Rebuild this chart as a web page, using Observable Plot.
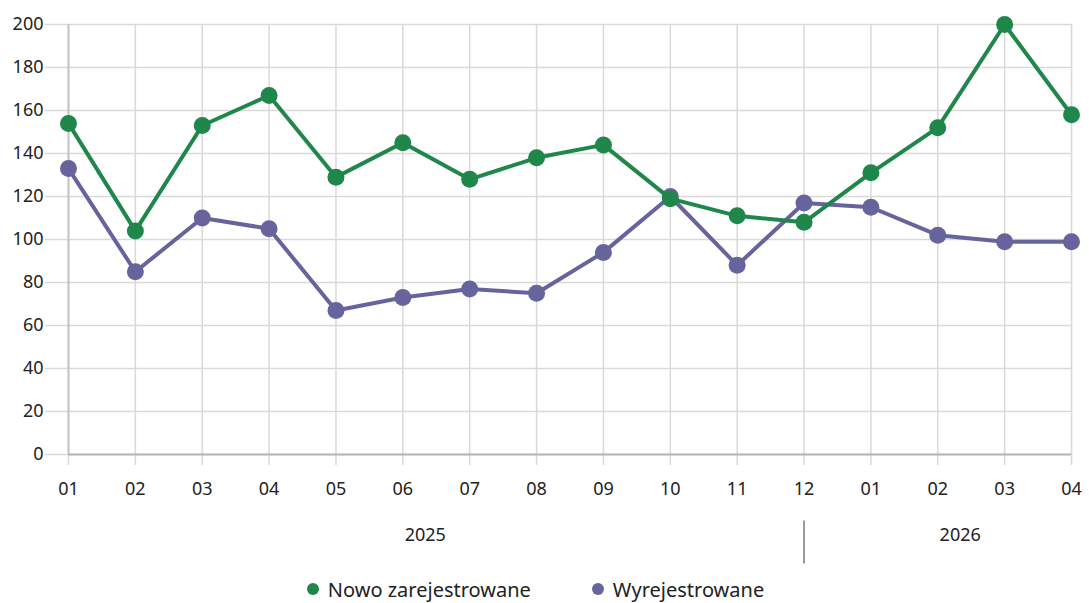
<!DOCTYPE html>
<html>
<head>
<meta charset="utf-8">
<script src="https://cdn.jsdelivr.net/npm/d3@7"></script>
<script src="https://cdn.jsdelivr.net/npm/@observablehq/plot@0.6"></script>
<style>
  body { margin: 0; background: #fff; font-family: "Noto Sans", sans-serif; }
  #chart svg { display: block; }
  .legend { display: flex; justify-content: center; gap: 61px; font-size: 20px; color: #222; height: 26px; align-items: center; position: relative; left: -9px; }
  .legend span { display: inline-flex; align-items: center; }
  .legend i { display: inline-block; width: 12px; height: 12px; border-radius: 50%; margin-right: 9px; }
</style>
</head>
<body>
<div id="chart"></div>
<script>
const months = ["01","02","03","04","05","06","07","08","09","10","11","12","01","02","03","04"];
const monthYear = ["2025","2025","2025","2025","2025","2025","2025","2025","2025","2025","2025","2025","2026","2026","2026","2026"];
const nowo = [154,104,153,167,129,145,128,138,144,119,111,108,131,152,200,158];
const wyrej = [133,85,110,105,67,73,77,75,94,120,88,117,115,102,99,99];
const seriesNames = ["Nowo zarejestrowane","Wyrejestrowane"];
const colors = ["#20874b","#67639d"];
const yTicks = d3.range(0, 201, 20);

const rows = [];
months.forEach((m, i) => {
  rows.push({i, series: seriesNames[0], value: nowo[i]});
  rows.push({i, series: seriesNames[1], value: wyrej[i]});
});
const idx = months.map((_, i) => i);

// year groups
const years = Array.from(new Set(monthYear));
const yearGroups = years.map(y => {
  const is = idx.filter(i => monthYear[i] === y);
  return {year: y, center: (is[0] + is[is.length - 1]) / 2, last: is[is.length - 1]};
});
const separators = yearGroups.slice(0, -1).map(g => g.last);

const vline = {draw(ctx) { ctx.moveTo(0, -21.5); ctx.lineTo(0, 21.5); }};

const plot = Plot.plot({
  width: 1089,
  height: 576,
  marginLeft: 68,
  marginRight: 18,
  marginTop: 24,
  marginBottom: 122,
  style: {fontFamily: "Noto Sans, sans-serif", fontSize: "18px", color: "#222", background: "#fff"},
  x: {type: "linear", domain: [0, months.length - 1]},
  y: {domain: [0, 200]},
  color: {domain: seriesNames, range: colors},
  marks: [
    Plot.gridY(yTicks, {stroke: "#d9d9d9", strokeOpacity: 1, strokeWidth: 1.5}),
    Plot.gridX(idx, {stroke: "#d9d9d9", strokeOpacity: 1, strokeWidth: 1.5}),
    Plot.axisY(yTicks, {tickSize: 23, tickPadding: 2, stroke: "#d9d9d9", strokeWidth: 1.5, fill: "#222", label: null, fontSize: 18}),
    Plot.axisX(idx, {tickSize: 11, tickPadding: 17, stroke: "#d9d9d9", strokeWidth: 1.5, fill: "#222", label: null, tickFormat: i => months[i], fontSize: 18}),
    Plot.ruleX([0], {stroke: "#c4c4c4", strokeWidth: 2}),
    Plot.ruleY([0], {stroke: "#b5b5b5", strokeWidth: 2}),
    Plot.line(rows.filter(d => d.series === seriesNames[1]), {x: "i", y: "value", stroke: "series", strokeWidth: 4}),
    Plot.dot(rows.filter(d => d.series === seriesNames[1]), {x: "i", y: "value", fill: "series", r: 8.5}),
    Plot.line(rows.filter(d => d.series === seriesNames[0]), {x: "i", y: "value", stroke: "series", strokeWidth: 4}),
    Plot.dot(rows.filter(d => d.series === seriesNames[0]), {x: "i", y: "value", fill: "series", r: 8.5}),
    Plot.text(yearGroups, {x: "center", text: "year", frameAnchor: "bottom", dy: 81, dx: -11, fontSize: 18, fill: "#222", textAnchor: "middle", lineAnchor: "middle"}),
    Plot.dot(separators, {x: d => d, frameAnchor: "bottom", dy: 87.5, symbol: vline, stroke: "#999", strokeWidth: 2, r: 1})
  ]
});
document.getElementById("chart").appendChild(plot);

const legend = document.createElement("div");
legend.className = "legend";
seriesNames.forEach((s, k) => {
  const span = document.createElement("span");
  const dot = document.createElement("i");
  dot.style.background = colors[k];
  span.appendChild(dot);
  span.appendChild(document.createTextNode(s));
  legend.appendChild(span);
});
document.body.appendChild(legend);
</script>
</body>
</html>
